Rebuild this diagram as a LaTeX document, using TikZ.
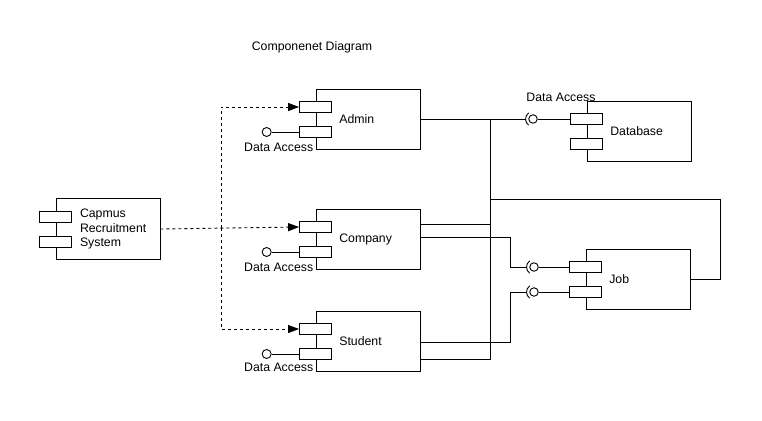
\documentclass[tikz,border=0pt]{standalone}
\usepackage{fontspec}
\setmainfont{Liberation Sans}
\usepackage{xcolor}
\usetikzlibrary{arrows.meta,positioning}

\begin{document}
\begin{tikzpicture}[x=1pt, y=-1pt, line width=0.9pt,
  every node/.style={font=\fontsize{12.3}{14.5}\selectfont},
  comp/.style={rectangle, draw=black, fill=white, minimum width=104pt, minimum height=60pt, inner sep=0pt},
  port/.style={rectangle, draw=black, fill=white, minimum width=32pt, minimum height=11pt, inner sep=0pt},
  lolli/.style={circle, draw=black, fill=white, minimum size=9pt, inner sep=0pt},
  ball/.style={circle, draw=black, fill=white, minimum size=8.5pt, inner sep=0pt},
  cup/.style={circle, minimum size=15pt, inner sep=0pt},
  label/.style={inner sep=1pt}]
\useasboundingbox (0,0) rectangle (762,420);

\node (title) at (312,47) {Componenet Diagram};

% Capmus Recruitment System
\node[comp, minimum height=61pt] (capmus) at (108,229) {};
\node[port] (capmusP1) at ([yshift=12pt]capmus.west) {};
\node[port] (capmusP2) at ([yshift=-13pt]capmus.west) {};
\node[anchor=west, align=left, inner sep=0pt] (capmusLbl) at ([xshift=24pt]capmus.west) {Capmus\\Recruitment\\System};

% Admin, Company, Student
\node[comp] (admin) at (368,119) {};
\node[comp] (company) at (368,239) {};
\node[comp] (student) at (368,341) {};
\foreach \c/\t/\d in {admin/Admin/5pt, company/Company/5pt, student/Student/3pt}{
  \node[port] (\c P1) at ([yshift=12pt]\c.west) {};
  \node[port] (\c P2) at ([yshift=-13pt]\c.west) {};
  \node[anchor=west] (\c Lbl) at ([xshift=20pt]\c.west) {\t};
  \node[lolli, left=27.5pt of \c P2] (\c DA) {};
  \draw (\c DA) -- (\c P2.west);
  \node[label, below=\d of \c DA, xshift=12pt] (\c DALbl) {Data Access};
}

% Database
\node[comp] (db) at (639,131) {};
\node[port] (dbP1) at ([yshift=12pt]db.west) {};
\node[port] (dbP2) at ([yshift=-13pt]db.west) {};
\node[anchor=west] (dbLbl) at ([xshift=20pt]db.west) {Database};
\node[ball] (dbBall) at (533,119) {};
\node[cup] (dbCup) at (533,119) {};
\draw (dbBall) -- (dbP1.west);
\draw (dbCup.center) ++(125:7.5pt) arc[start angle=125, end angle=235, radius=7.5pt];
\node[label] (dbDALbl) at (561,97) {Data Access};

% Job
\node[comp] (job) at (638,279) {};
\node[port] (jobP1) at ([yshift=12pt]job.west) {};
\node[port] (jobP2) at ([yshift=-13pt]job.west) {};
\node[anchor=west] (jobLbl) at ([xshift=20pt]job.west) {Job};
\foreach \s/\y in {1/267, 2/292}{
  \node[ball] (jobBall\s) at (534,\y) {};
  \node[cup] (jobCup\s) at (534,\y) {};
  \draw (jobBall\s) -- (jobP\s.west);
  \draw (jobCup\s.center) ++(125:7.5pt) arc[start angle=125, end angle=235, radius=7.5pt];
}

% dependencies
\coordinate (fork) at (221,228);
\draw[dashed, -{Triangle[length=11pt,width=8pt]}] (capmus.east) -- (companyP1.west);
\draw[dashed, -{Triangle[length=11pt,width=8pt]}] (fork) |- (adminP1.west);
\draw[dashed, -{Triangle[length=11pt,width=8pt]}] (fork) |- (studentP1.west);

% assemblies
\coordinate (trunk) at (490,119);
\coordinate (fb) at (720,199);
\draw (admin.east) -- (dbCup.west);
\draw ([yshift=-18pt]student.east) -| (trunk);
\draw ([yshift=15pt]company.east) -| (trunk);
\draw (job.east) -| (fb) -- (fb -| trunk);
\draw ([yshift=2pt]company.east) -- ++(90pt,0) |- (jobCup1.west);
\draw ([yshift=-1pt]student.east) -- ++(90pt,0) |- (jobCup2.west);
\end{tikzpicture}
\end{document}
